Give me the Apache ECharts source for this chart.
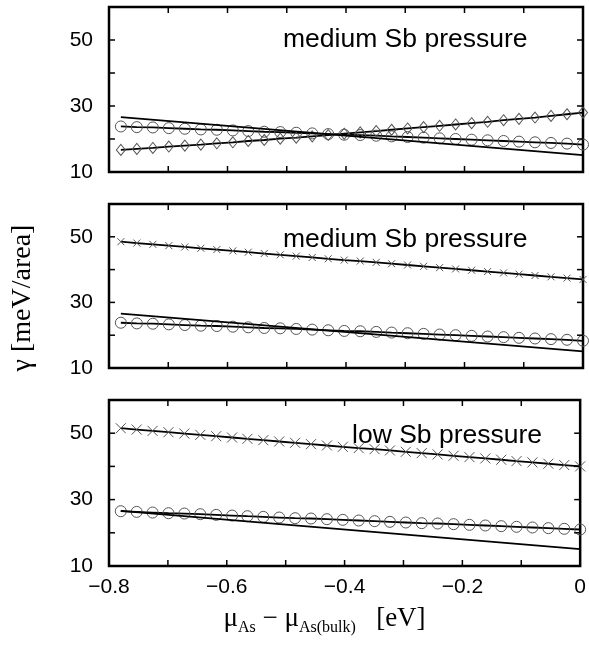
<!DOCTYPE html>
<html>
<head>
<meta charset="utf-8">
<script src="https://cdn.jsdelivr.net/npm/echarts@6/dist/echarts.min.js"></script>
<style>
html,body{margin:0;padding:0;background:#fff;}
#chart{width:589px;height:645px;}
</style>
</head>
<body>
<div id="chart"></div>
<script>
// ---- data ----
const xVals = [-0.780, -0.753, -0.726, -0.699, -0.672, -0.645, -0.618, -0.591, -0.565, -0.538,
               -0.511, -0.484, -0.457, -0.430, -0.403, -0.376, -0.349, -0.323, -0.296, -0.269,
               -0.242, -0.215, -0.188, -0.161, -0.134, -0.108, -0.081, -0.054, -0.027, 0.000];
const refX = [-0.78, 0.0];
const refY = [26.6, 15.1];
const circlesMedium = [23.8, 23.6, 23.5, 23.3, 23.1, 22.9, 22.8, 22.6, 22.4, 22.2,
                       22.1, 21.9, 21.7, 21.5, 21.3, 21.2, 21.0, 20.8, 20.6, 20.4,
                       20.2, 20.0, 19.8, 19.6, 19.4, 19.2, 19.0, 18.8, 18.6, 18.3];
const diamondsMedium = [16.7, 17.0, 17.3, 17.7, 18.0, 18.3, 18.7, 19.0, 19.4, 19.7,
                        20.1, 20.4, 20.8, 21.2, 21.6, 22.0, 22.4, 22.8, 23.2, 23.6,
                        24.0, 24.4, 24.8, 25.2, 25.7, 26.1, 26.5, 27.0, 27.5, 28.0];
const crossesMedium = [48.5, 48.1, 47.7, 47.3, 46.9, 46.5, 46.1, 45.7, 45.3, 44.9,
                       44.5, 44.1, 43.7, 43.3, 42.9, 42.6, 42.2, 41.8, 41.4, 41.0,
                       40.6, 40.2, 39.8, 39.4, 39.0, 38.6, 38.2, 37.8, 37.4, 37.0];
const crossesLow = [51.5, 51.1, 50.7, 50.3, 49.9, 49.5, 49.1, 48.7, 48.3, 47.9,
                    47.5, 47.1, 46.7, 46.3, 45.9, 45.5, 45.2, 44.8, 44.4, 44.0,
                    43.6, 43.2, 42.8, 42.4, 42.0, 41.6, 41.2, 40.8, 40.4, 40.0];
const circlesLow = [26.5, 26.3, 26.1, 25.9, 25.8, 25.6, 25.4, 25.2, 25.0, 24.8,
                    24.6, 24.4, 24.3, 24.1, 23.9, 23.7, 23.5, 23.3, 23.1, 22.9,
                    22.8, 22.6, 22.4, 22.2, 22.0, 21.8, 21.6, 21.4, 21.2, 21.0];
const yTickLabels = [10, 30, 50];
const xTickLabels = [-0.8, -0.6, -0.4, -0.2, 0];
const xTickMarks = [-0.8, -0.7, -0.6, -0.5, -0.4, -0.3, -0.2, -0.1, 0];
const yTickMarks = [10, 20, 30, 40, 50, 60];
const panelTitles = ['medium Sb pressure', 'medium Sb pressure', 'low Sb pressure'];

// ---- chart ----
const pair = (xs, ys) => xs.map((x, i) => [x, ys[i]]);
const SANS = '"Liberation Sans", Arial, Helvetica, sans-serif';
const SERIF = '"Liberation Serif", "Times New Roman", serif';
const X_MIN = -0.8, X_MAX = 0, Y_MIN = 10, Y_MAX = 60;
const grids = [
  {left: 109, width: 474, top: 7, height: 165},
  {left: 109, width: 474, top: 204, height: 164},
  {left: 109, width: 474, top: 400, height: 166}
];
const TICK = 6;
function fmtX(v) {
  const r = Math.round(v * 10) / 10;
  for (const t of xTickLabels) {
    if (Math.abs(t - r) < 1e-6) return t === 0 ? '0' : '\u2212' + Math.abs(t).toFixed(1);
  }
  return '';
}
function fmtY(v) {
  return yTickLabels.indexOf(Math.round(v)) >= 0 ? String(Math.round(v)) : '';
}
const xAxes = [], yAxes = [];
grids.forEach((g, i) => {
  const ax = {
    type: 'value', gridIndex: i, position: 'bottom', min: X_MIN, max: X_MAX, interval: 0.1,
    axisLine: {show: false, onZero: false}, axisTick: {show: false}, splitLine: {show: false},
    axisLabel: {show: i === 2, formatter: fmtX, color: '#000', fontFamily: SANS, fontSize: 21, margin: 11}
  };
  if (i === 2) {
    ax.name = '{m|\u03bc}{s|As}{m| \u2212 \u03bc}{s|As(bulk)}{m|   [eV]}';
    ax.nameLocation = 'middle';
    ax.nameGap = 36;
    ax.nameTextStyle = {
      padding: [0, 40, 0, 0],
      rich: {
        m: {fontFamily: SERIF, fontSize: 27, color: '#000'},
        s: {fontFamily: SERIF, fontSize: 16, color: '#000', padding: [18, 0, 0, 0]}
      }
    };
  }
  xAxes.push(ax);
  const ay = {
    type: 'value', gridIndex: i, position: 'left', min: Y_MIN, max: Y_MAX, interval: 10,
    axisLine: {show: false, onZero: false}, axisTick: {show: false}, splitLine: {show: false},
    axisLabel: {show: true, formatter: fmtY, color: '#000', fontFamily: SANS, fontSize: 21, margin: 16}
  };
  if (i === 1) {
    ay.name = '\u03b3 [meV/area]';
    ay.nameLocation = 'middle';
    ay.nameGap = 72;
    ay.nameRotate = 90;
    ay.nameTextStyle = {fontFamily: SERIF, fontSize: 28, color: '#000', padding: [0, 24, 0, 0]};
  }
  yAxes.push(ay);
});

const series = [];
function refLine(i) {
  series.push({type: 'line', xAxisIndex: i, yAxisIndex: i, data: pair(refX, refY),
    showSymbol: false, lineStyle: {color: '#000', width: 1.8}, z: 3});
}
function markerLine(i, ys, symbol, size) {
  series.push({type: 'line', xAxisIndex: i, yAxisIndex: i, data: pair(xVals, ys),
    symbol: symbol, symbolSize: size, showAllSymbol: true,
    itemStyle: {color: 'rgba(0,0,0,0)', borderColor: '#555', borderWidth: 1},
    lineStyle: {color: '#000', width: 1.8}, z: 2});
}
const tickStroke = {stroke: '#000', lineWidth: 1.5};
// inward tick marks on all four sides, positioned through the axes' own scales
function tickSeries(i) {
  series.push({
    type: 'custom', xAxisIndex: i, yAxisIndex: i, silent: true, clip: false, z: 5,
    data: xTickMarks.map(v => [v, Y_MIN]),
    renderItem: function (params, api) {
      const x = api.value(0);
      const b = api.coord([x, Y_MIN]), t = api.coord([x, Y_MAX]);
      return {type: 'group', children: [
        {type: 'line', shape: {x1: b[0], y1: b[1], x2: b[0], y2: b[1] - TICK}, style: tickStroke},
        {type: 'line', shape: {x1: t[0], y1: t[1], x2: t[0], y2: t[1] + TICK}, style: tickStroke}
      ]};
    }
  });
  series.push({
    type: 'custom', xAxisIndex: i, yAxisIndex: i, silent: true, clip: false, z: 5,
    data: yTickMarks.map(v => [X_MIN, v]),
    renderItem: function (params, api) {
      const y = api.value(1);
      const l = api.coord([X_MIN, y]), r = api.coord([X_MAX, y]);
      return {type: 'group', children: [
        {type: 'line', shape: {x1: l[0], y1: l[1], x2: l[0] + TICK, y2: l[1]}, style: tickStroke},
        {type: 'line', shape: {x1: r[0], y1: r[1], x2: r[0] - TICK, y2: r[1]}, style: tickStroke}
      ]};
    }
  });
}
const CROSS = 'path://M0,0L10,10M0,10L10,0';
refLine(0); markerLine(0, circlesMedium, 'circle', 11); markerLine(0, diamondsMedium, 'diamond', [9, 11]); tickSeries(0);
refLine(1); markerLine(1, circlesMedium, 'circle', 11); markerLine(1, crossesMedium, CROSS, 7); tickSeries(1);
refLine(2); markerLine(2, circlesLow, 'circle', 11); markerLine(2, crossesLow, CROSS, 10); tickSeries(2);

const titlePos = [[283, 26], [283, 226], [352, 422]];
const graphic = panelTitles.map((t, i) => ({
  type: 'text', left: titlePos[i][0], top: titlePos[i][1],
  style: {text: t, fontFamily: SANS, fontSize: 26.5, fill: '#000'}
}));

const chart = echarts.init(document.getElementById('chart'), null, {renderer: 'canvas'});
chart.setOption({
  animation: false,
  backgroundColor: '#fff',
  grid: grids.map(g => Object.assign({show: true, borderColor: '#000', borderWidth: 2.5, backgroundColor: 'transparent'}, g)),
  xAxis: xAxes,
  yAxis: yAxes,
  series: series,
  graphic: graphic
});
</script>
</body>
</html>
